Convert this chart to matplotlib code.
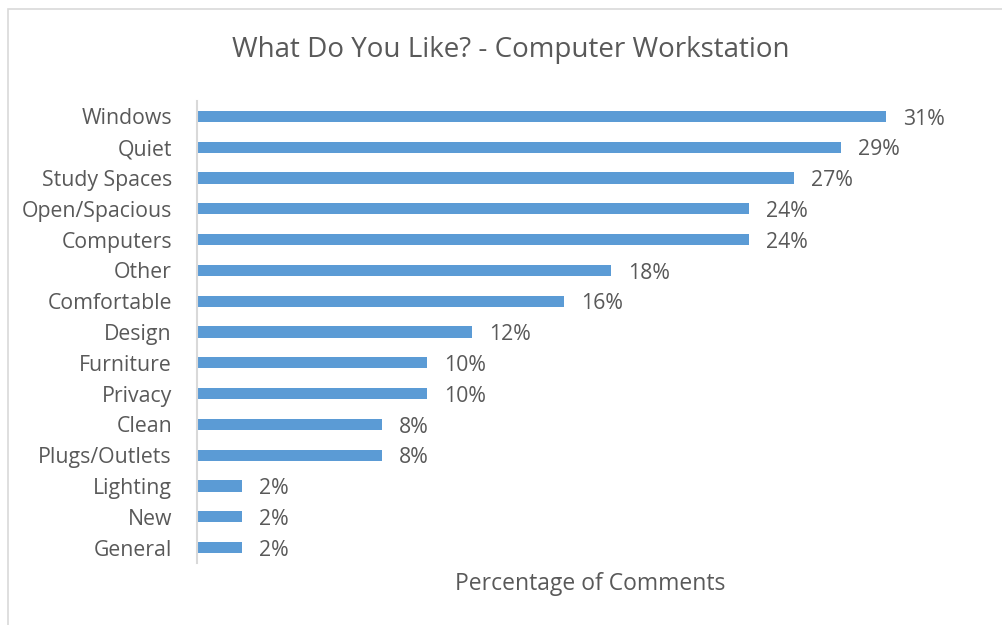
import matplotlib
matplotlib.use("Agg")
import matplotlib.pyplot as plt
from matplotlib.patches import Rectangle

categories = ["Windows", "Quiet", "Study Spaces", "Open/Spacious", "Computers", "Other",
              "Comfortable", "Design", "Furniture", "Privacy", "Clean", "Plugs/Outlets",
              "Lighting", "New", "General"]
values = [30.6, 28.6, 26.5, 24.5, 24.5, 18.4, 16.3, 12.2, 10.2, 10.2, 8.2, 8.2, 2.0, 2.0, 2.0]
labels = ["31%", "29%", "27%", "24%", "24%", "18%", "16%", "12%", "10%", "10%", "8%", "8%",
          "2%", "2%", "2%"]
title = "What Do You Like? - Computer Workstation"
xlabel = "Percentage of Comments"

plt.rcParams['font.family'] = ['Open Sans', 'DejaVu Sans']
TXT = "#595959"
BAR = "#5B9BD5"

W, H = 1002, 625
fig = plt.figure(figsize=(W / 100, H / 100), dpi=100)
fig.patch.set_facecolor("white")

# chart border
fig.patches.append(Rectangle((8 / W, -0.1), 1.2, 1 - 9 / H + 0.1, transform=fig.transFigure,
                             fill=False, edgecolor="#D9D9D9", linewidth=1.2))

ax = fig.add_axes([197 / W, 1 - 563 / H, (985 - 197) / W, (563 - 101) / H])
y = list(range(len(categories)))
ax.barh(y, values, height=0.37, color=BAR)
ax.set_ylim(len(categories) - 0.5, -0.5)
ax.set_xlim(0, 35)
ax.set_yticks(y)
ax.set_yticklabels(categories, fontsize=15.3, color=TXT)
ax.tick_params(axis="y", length=0, pad=18)
ax.set_xticks([])
for s in ["top", "right", "bottom"]:
    ax.spines[s].set_visible(False)
ax.spines["left"].set_color("#D9D9D9")
ax.spines["left"].set_linewidth(1.5)

for yi, v, lab in zip(y, values, labels):
    ax.annotate(lab, (v, yi), xytext=(12.5, -2), textcoords="offset points",
                va="center", ha="left", fontsize=15.3, color=TXT)

fig.text(511 / W, 1 - 50 / H, title, ha="center", va="center", fontsize=20, color=TXT)
fig.text(590 / W, 1 - 584 / H, xlabel, ha="center", va="center", fontsize=16.5, color=TXT)

fig.savefig("out.png", dpi=100)
